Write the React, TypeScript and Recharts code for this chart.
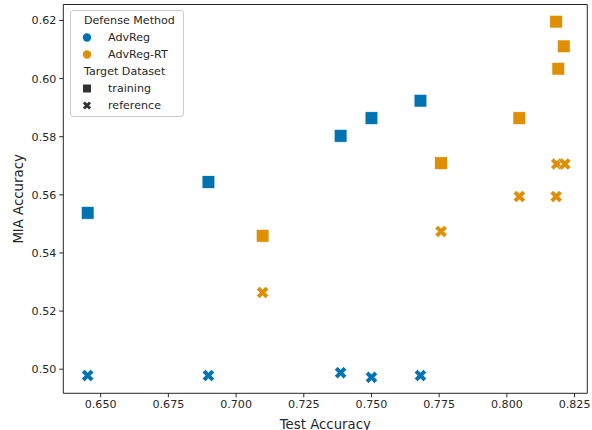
import React from "react";
import { ReferenceLine, Scatter, ScatterChart, XAxis, YAxis } from "recharts";

// AdvReg (blue)
const advRegTestAcc = [0.6452, 0.6898, 0.7386, 0.75, 0.7681];
const advRegTrainingMia = [0.5538, 0.5644, 0.5803, 0.5864, 0.5924];
const advRegReferenceMia = [0.4978, 0.4978, 0.4988, 0.4972, 0.4978];

// AdvReg-RT (orange)
const advRegRtTrainingAcc = [0.7098, 0.7757, 0.8046, 0.8182, 0.819, 0.821];
const advRegRtTrainingMia = [0.5459, 0.5709, 0.5864, 0.6196, 0.6034, 0.6111];
const advRegRtReferenceAcc = [0.7098, 0.7757, 0.8046, 0.8182, 0.8184, 0.8214];
const advRegRtReferenceMia = [0.5264, 0.5474, 0.5594, 0.5594, 0.5706, 0.5706];

const xTicks = [0.65, 0.675, 0.7, 0.725, 0.75, 0.775, 0.8, 0.825];
const yTicks = [0.5, 0.52, 0.54, 0.56, 0.58, 0.6, 0.62];
const xDomain: [number, number] = [0.6362, 0.8297];
const yDomain: [number, number] = [0.4917, 0.6255];

const BLUE = "#0173b2";
const ORANGE = "#de8f05";
const INK = "#262626";
const FONT = "DejaVu Sans";

const toPoints = (xs: number[], ys: number[]) =>
  xs.map((x, i) => ({ x, y: ys[i] }));

const SquareShape = (props: any) => {
  const { cx, cy, fill } = props;
  const s = 12.7;
  return (
    <rect
      x={cx - s / 2}
      y={cy - s / 2}
      width={s}
      height={s}
      fill={fill}
      stroke="#ffffff"
      strokeWidth={0.6}
    />
  );
};

const plusPts = [
  [-1, -3], [1, -3], [1, -1], [3, -1], [3, 1], [1, 1],
  [1, 3], [-1, 3], [-1, 1], [-3, 1], [-3, -1], [-1, -1],
];

const xPath = (cx: number, cy: number, u: number) => {
  const c = Math.SQRT1_2;
  return (
    plusPts
      .map(([a, b], i) => {
        const px = cx + (a * c - b * c) * u;
        const py = cy + (a * c + b * c) * u;
        return `${i === 0 ? "M" : "L"}${px.toFixed(2)},${py.toFixed(2)}`;
      })
      .join(" ") + " Z"
  );
};

const XShape = (props: any) => {
  const { cx, cy, fill } = props;
  return <path d={xPath(cx, cy, 2.12)} fill={fill} stroke="#ffffff" strokeWidth={0.4} />;
};

const legendRow: React.CSSProperties = {
  display: "flex",
  alignItems: "center",
  height: 17,
};

const LegendBox = () => (
  <div
    style={{
      position: "absolute",
      left: 70,
      top: 10,
      width: 114,
      padding: "1px 0 2px 0",
      border: "1px solid #cccccc",
      borderRadius: 3,
      background: "rgba(255,255,255,0.8)",
      fontFamily: FONT,
      fontSize: 11.1,
      color: INK,
      boxSizing: "border-box",
    }}
  >
    <div style={{ ...legendRow, paddingLeft: 13 }}>Defense Method</div>
    <div style={legendRow}>
      <svg width={37} height={17}>
        <circle cx={16} cy={8.5} r={4.2} fill={BLUE} />
      </svg>
      AdvReg
    </div>
    <div style={legendRow}>
      <svg width={37} height={17}>
        <circle cx={16} cy={8.5} r={4.2} fill={ORANGE} />
      </svg>
      AdvReg-RT
    </div>
    <div style={{ ...legendRow, paddingLeft: 13 }}>Target Dataset</div>
    <div style={legendRow}>
      <svg width={37} height={17}>
        <rect x={12} y={4.5} width={8} height={8} fill="#333333" />
      </svg>
      training
    </div>
    <div style={legendRow}>
      <svg width={37} height={17}>
        <path d={xPath(16, 8.5, 1.45)} fill="#333333" />
      </svg>
      reference
    </div>
  </div>
);

export default function App() {
  const tickStyle = { fontFamily: FONT, fontSize: 11.1, fill: INK };
  return (
    <div style={{ position: "absolute", left: 0, top: 0, width: 592, height: 430, background: "#fff" }}>
      <ScatterChart
        width={592}
        height={430}
        margin={{ top: 4.5, right: 4.7, left: 13.3, bottom: 0 }}
      >
        <XAxis
          type="number"
          dataKey="x"
          domain={xDomain}
          ticks={xTicks}
          tickFormatter={(v: number) => v.toFixed(3)}
          allowDataOverflow
          height={36.7}
          tickSize={4}
          tickMargin={3}
          stroke={INK}
          tick={tickStyle}
          label={{
            value: "Test Accuracy",
            position: "insideBottom",
            offset: 1.5,
            style: { fontFamily: FONT, fontSize: 13.3, fill: INK },
          }}
        />
        <YAxis
          type="number"
          dataKey="y"
          domain={yDomain}
          ticks={yTicks}
          tickFormatter={(v: number) => v.toFixed(2)}
          allowDataOverflow
          width={50}
          tickSize={4}
          tickMargin={3}
          stroke={INK}
          tick={tickStyle}
          label={{
            value: "MIA Accuracy",
            angle: -90,
            position: "insideLeft",
            offset: 5,
            style: { fontFamily: FONT, fontSize: 13.3, fill: INK, textAnchor: "middle" },
          }}
        />
        <ReferenceLine y={yDomain[1]} stroke={INK} strokeWidth={1} />
        <ReferenceLine x={xDomain[1]} stroke={INK} strokeWidth={1} />
        <Scatter
          name="AdvReg training"
          data={toPoints(advRegTestAcc, advRegTrainingMia)}
          fill={BLUE}
          shape={SquareShape}
          isAnimationActive={false}
        />
        <Scatter
          name="AdvReg-RT training"
          data={toPoints(advRegRtTrainingAcc, advRegRtTrainingMia)}
          fill={ORANGE}
          shape={SquareShape}
          isAnimationActive={false}
        />
        <Scatter
          name="AdvReg reference"
          data={toPoints(advRegTestAcc, advRegReferenceMia)}
          fill={BLUE}
          shape={XShape}
          isAnimationActive={false}
        />
        <Scatter
          name="AdvReg-RT reference"
          data={toPoints(advRegRtReferenceAcc, advRegRtReferenceMia)}
          fill={ORANGE}
          shape={XShape}
          isAnimationActive={false}
        />
      </ScatterChart>
      <LegendBox />
    </div>
  );
}
